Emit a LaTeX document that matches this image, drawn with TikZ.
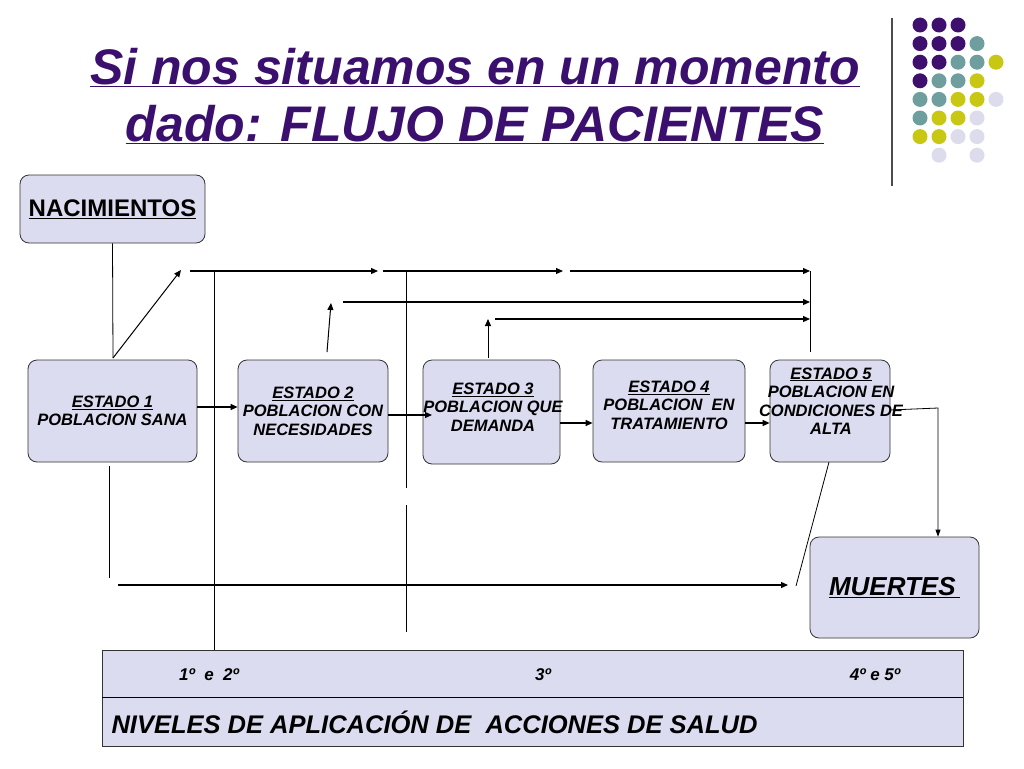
\documentclass[tikz,border=0pt]{standalone}
\usepackage{fontspec}
\setmainfont{Liberation Sans}
\usetikzlibrary{arrows.meta}
\definecolor{boxfill}{HTML}{DCDCF0}
\definecolor{ttl}{HTML}{3A0F6E}
\definecolor{dP}{HTML}{3F0F6E}
\definecolor{dT}{HTML}{6E9E9E}
\definecolor{dY}{HTML}{C8C814}
\definecolor{dL}{HTML}{DCDCEC}
\begin{document}
\begin{tikzpicture}[x=1pt,y=-1pt,
  box/.style={draw=black!80,fill=boxfill,rounded corners=9pt,line width=0.8pt},
  lbl/.style={font=\fontsize{16.5}{18.5}\selectfont\bfseries\itshape,align=center,inner sep=0},
  ar/.style={-{Triangle[length=7pt,width=6pt]},line width=1.2pt},
  ln/.style={line width=0.8pt},
  lvl/.style={font=\fontsize{17}{19}\selectfont\bfseries\itshape}]
\useasboundingbox (0,0) rectangle (1024,768);
\fill[white] (0,0) rectangle (1024,768);
% title
\node[text=ttl,font=\fontsize{50}{57}\selectfont\bfseries\itshape,align=center] (title) at (475,96) {\underline{Si nos situamos en un momento}\\\underline{dado: FLUJO DE PACIENTES}};
% decoration
\draw[line width=1.2pt,black!70] (892,18) -- (892,186);
\def\dot#1#2#3{\fill[#3] (920+19*#1,25+18.6*#2) circle (7.5);}
\dot00{dP}\dot10{dP}\dot20{dP}
\dot01{dP}\dot11{dP}\dot21{dP}\dot31{dT}
\dot02{dP}\dot12{dP}\dot22{dT}\dot32{dT}\dot42{dY}
\dot03{dP}\dot13{dT}\dot23{dT}\dot33{dY}
\dot04{dT}\dot14{dT}\dot24{dY}\dot34{dY}\dot44{dL}
\dot05{dT}\dot15{dY}\dot25{dY}\dot35{dL}
\dot06{dY}\dot16{dY}\dot26{dL}\dot36{dL}
\dot17{dL}\dot37{dL}
% boxes
\node[box,minimum width=185,minimum height=68,font=\fontsize{24}{26}\selectfont\bfseries] (nac) at (112.5,209) {\underline{NACIMIENTOS}};
\node[box,minimum width=169,minimum height=102] (e1) at (112.5,411) {};
\node[lbl] at (e1) {\underline{ESTADO 1}\\POBLACION SANA};
\node[box,minimum width=150,minimum height=102] (e2) at (313,411) {};
\node[lbl] at (313,411) {\underline{ESTADO 2}\\POBLACION CON\\NECESIDADES};
\node[box,minimum width=137,minimum height=104] (e3) at (491.5,412) {};
\node[lbl] at (493,407) {\underline{ESTADO 3}\\POBLACION QUE\\DEMANDA};
\node[box,minimum width=152,minimum height=102] (e4) at (669,411) {};
\node[lbl] at (669,405) {\underline{ESTADO 4}\\POBLACION\ \ EN\\TRATAMIENTO};
\node[box,minimum width=120,minimum height=102] (e5) at (830,411) {};
\node[lbl] at (831,401) {\underline{ESTADO 5}\\POBLACION EN\\CONDICIONES DE\\ALTA};
\node[box,minimum width=169,minimum height=101,font=\fontsize{26}{30}\selectfont\bfseries\itshape] (mu) at (894.5,587.5) {\underline{MUERTES\,}};
% bottom box
\node[draw=black!80,fill=boxfill,line width=0.8pt,minimum width=861,minimum height=96,inner sep=0] (niv) at (532.5,698) {};
\draw[ln] (102,697) -- (963,697);
\node[lvl] (l12) at (209,675) {1º\ \ e\ \ 2º};
\node[lvl] (l3) at (543,675) {3º};
\node[lvl] (l45) at (875,675) {4º e 5º};
\node[font=\fontsize{25.5}{28}\selectfont\bfseries\itshape,anchor=west] (nivt) at (108,722) {NIVELES DE APLICACIÓN DE\ \ ACCIONES DE SALUD};
% coordinates
\coordinate (a0) at (113,358);
\coordinate (a1) at (181,270);
\coordinate (t1) at (190,271); \coordinate (t1e) at (378,271);
\coordinate (t2) at (383,271); \coordinate (t2e) at (563,271);
\coordinate (t3) at (570,271); \coordinate (t3e) at (810,271);
\coordinate (v5) at (810,352);
\coordinate (b0) at (327,352); \coordinate (b1) at (331,303);
\coordinate (b2) at (343,302); \coordinate (b2e) at (810,302);
\coordinate (c0) at (488,358); \coordinate (c1) at (488,319);
\coordinate (c2) at (495,319); \coordinate (c2e) at (810,319);
\coordinate (r0) at (890,410); \coordinate (r1) at (938,408);
\coordinate (d0) at (109,466); \coordinate (d1) at (109,578);
\coordinate (m0) at (118,585); \coordinate (m1) at (788,585);
\coordinate (s0) at (829,462); \coordinate (s1) at (796,586);
\coordinate (v1a) at (214,271); \coordinate (v1b) at (214,650);
\coordinate (v2a) at (406,271); \coordinate (v2b) at (406,488);
\coordinate (v2c) at (406,505); \coordinate (v2d) at (406,632);
% connectors
\draw[ln] (nac.south) -- (a0);
\draw[-{Triangle[length=7pt,width=6pt]},line width=1pt] (a0) -- (a1);
\draw[ar] (t1) -- (t1e);
\draw[ar] (t2) -- (t2e);
\draw[ar] (t3) -- (t3e);
\draw[ln] (t3e) -- (v5);
\draw[-{Triangle[length=7pt,width=6pt]},line width=1pt] (b0) -- (b1);
\draw[ar] (b2) -- (b2e);
\draw[-{Triangle[length=7pt,width=6pt]},line width=1pt] (c0) -- (c1);
\draw[ar] (c2) -- (c2e);
\draw[ar] (e1.east |- 0,407) -- (e2.west |- 0,407);
\draw[ar] (e2.east |- 0,415) -- (432,415);
\draw[ar] (e3.east |- 0,423) -- (e4.west |- 0,423);
\draw[ar] (e4.east |- 0,423) -- (e5.west |- 0,423);
\draw[ln,-{Triangle[length=7pt,width=5pt]}] (r0) -- (r1) -- (mu.north -| r1);
\draw[ln] (d0) -- (d1);
\draw[ar] (m0) -- (m1);
\draw[ln] (s0) -- (s1);
\draw[ln] (v1a) -- (v1b);
\draw[ln] (v2a) -- (v2b);
\draw[ln] (v2c) -- (v2d);
\end{tikzpicture}
\end{document}
